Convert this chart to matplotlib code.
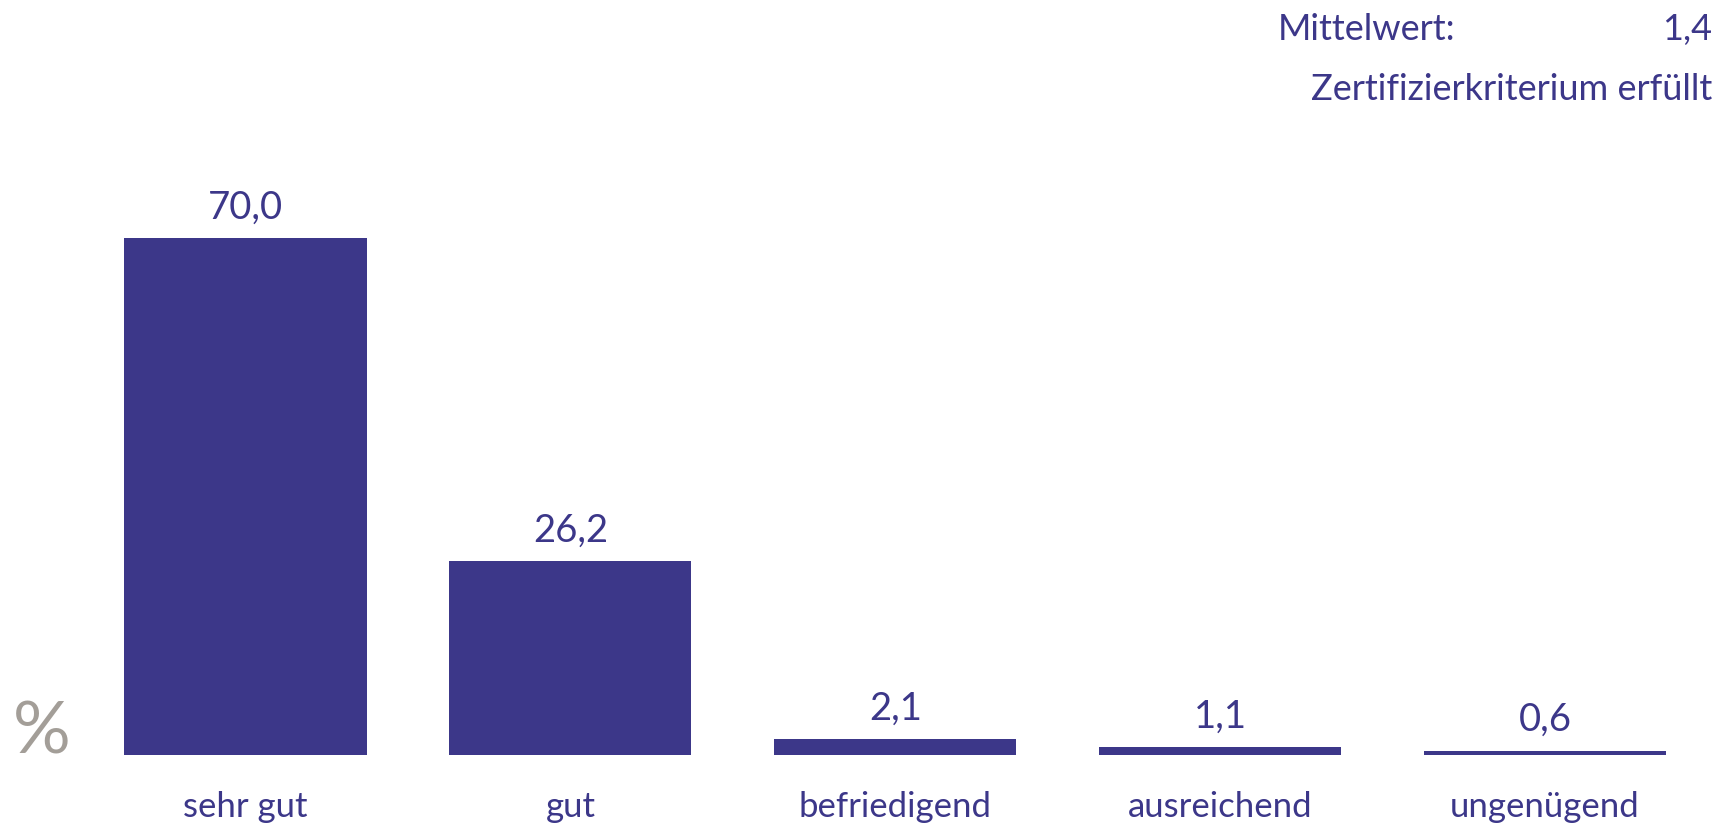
import matplotlib
matplotlib.use("Agg")
import matplotlib.pyplot as plt

plt.rcParams["font.family"] = ["Lato", "DejaVu Sans"]

categories = ["sehr gut", "gut", "befriedigend", "ausreichend", "ungenügend"]
values = [70.0, 26.2, 2.1, 1.1, 0.6]
value_labels = ["70,0", "26,2", "2,1", "1,1", "0,6"]
mean_label = "Mittelwert:"
mean_value = "1,4"
criterion_text = "Zertifizierkriterium erfüllt"

bar_color = "#3c3789"
text_color = "#3c3789"
unit_color = "#a39e98"

fig = plt.figure(figsize=(17.26, 8.26), dpi=100)
ax = fig.add_axes([0, 0, 1, 1])

x = list(range(len(categories)))
ax.bar(x, values, width=0.745, color=bar_color)

ax.set_xlim(-0.7556, 4.5567)
ax.set_ylim(-9.61, 102.17)
ax.axis("off")

for xi, v, lab, cat in zip(x, values, value_labels, categories):
    ax.annotate(lab, xy=(xi, v), xytext=(0, 14), textcoords="offset points",
                ha="center", va="baseline", fontsize=27.5, color=text_color)
    ax.annotate(cat, xy=(xi, 0), xytext=(0, -44.6), textcoords="offset points",
                ha="center", va="baseline", fontsize=25, color=text_color)

# header block top right
fig.text(0.7404, 0.9516, mean_label, ha="left", va="baseline",
         fontsize=26, color=text_color)
fig.text(0.9919, 0.9516, mean_value, ha="right", va="baseline",
         fontsize=26, color=text_color)
fig.text(0.9919, 0.879, criterion_text, ha="right", va="baseline",
         fontsize=26, color=text_color)

# unit sign
fig.text(0.0075, 0.0872, "%", ha="left", va="baseline",
         fontsize=52, color=unit_color)

plt.savefig("out.png", dpi=100)
